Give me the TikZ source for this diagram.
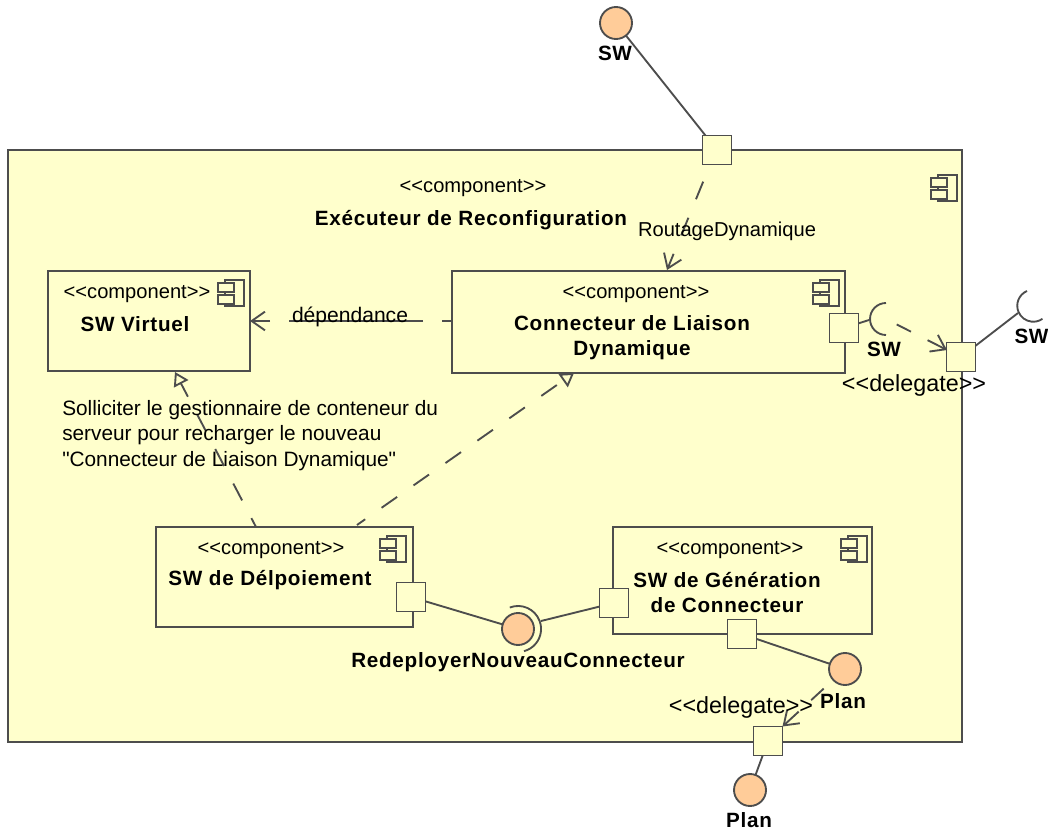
\documentclass[tikz,border=0pt]{standalone}
\usepackage{fontspec}
\newfontfamily\plainfont{Liberation Sans}
\newfontfamily\lblfont[LetterSpace=3.5]{Liberation Sans Bold}
\usetikzlibrary{arrows.meta}
\definecolor{cfill}{RGB}{255,255,204}
\definecolor{cball}{RGB}{255,204,153}
\definecolor{cline}{RGB}{77,77,77}
\tikzset{
  x=0.75pt,y=-0.75pt,
  lin/.style={draw=cline,line width=1.4pt},
  box/.style={lin,fill=cfill,rectangle,inner sep=0pt,outer sep=0pt},
  port/.style={box,minimum size=21.75pt},
  ball/.style={lin,fill=cball,circle,inner sep=0pt,outer sep=0pt,minimum size=24pt},
  stereo/.style={font=\fontsize{15.1}{18}\selectfont\plainfont,inner sep=0pt,text=black},
  deleg/.style={font=\fontsize{17.5}{20}\selectfont\plainfont,inner sep=0pt,text=black},
  lbl/.style={font=\fontsize{15.5}{18.75}\selectfont\lblfont,inner sep=0pt,align=center,text=black},
  note/.style={font=\fontsize{15.6}{19}\selectfont\plainfont,inner sep=0pt,align=left,text=black},
  dep/.style={lin,-{Straight Barb[length=10pt,width=14pt,line width=1.4pt]}},
  real/.style={lin,-{Triangle[open,length=10pt,width=12pt,fill=cfill,line width=1.4pt]}},
  pics/compicon/.style={code={
    \draw[lin,fill=cfill] (7,0) rectangle (26,26);
    \draw[lin,fill=cfill] (0,3) rectangle (16,12);
    \draw[lin,fill=cfill] (0,15) rectangle (16,24);
  }}
}
\begin{document}
\begin{tikzpicture}
\useasboundingbox (0,0) rectangle (1048,831);
\node[box,anchor=north west,minimum width=715.5pt,minimum height=444pt] (outer) at (8,150) {};
% points on the connectors
\coordinate (depfrom) at (452,321);
\coordinate (depto) at (250,321);
\coordinate (virtto) at (175,372);
\coordinate (virtfrom) at (256,527);
\coordinate (connto) at (574,373);
\coordinate (connfrom) at (357,525);
\coordinate (routefrom) at (710,165);
\coordinate (routeto) at (667,270);
\coordinate (reqL) at (869,320);
\coordinate (reqR) at (1018,313);
\coordinate (provR) at (541,621);
\coordinate (delefrom) at (886,319);
\coordinate (delegto) at (947,350);
% this arrow's tip passes under the box it points at
\draw[real,dash pattern=on 14.25pt off 15pt,dash phase=6.75pt] (connfrom) -- (connto);
% boxes
\node[box,anchor=north west,minimum width=151.5pt,minimum height=75pt] (virt) at (48,271) {};
\node[box,anchor=north west,minimum width=294.75pt,minimum height=76.5pt] (conn) at (452,271) {};
\node[box,anchor=north west,minimum width=192.75pt,minimum height=75pt] (depl) at (156,527) {};
\node[box,anchor=north west,minimum width=194.25pt,minimum height=80.25pt] (gen) at (613,527) {};
% icons
\pic at (931,175) {compicon};
\pic at (218,280) {compicon};
\pic at (813,280) {compicon};
\pic at (380,536) {compicon};
\pic at (841,536) {compicon};
% dependencies
\draw[dep,dash pattern=on 14.25pt off 15pt,dash phase=15.75pt] (routefrom) -- (routeto);
\draw[dep,dash pattern=on 7.5pt off 14.25pt on 100.5pt off 14.25pt on 20pt off 20pt] (depfrom) -- (depto);
\draw[real,dash pattern=on 14.25pt off 15pt,dash phase=6.75pt] (virtfrom) -- (virtto);
% ports
\node[port] (ptop) at (717,150) {};
\node[port] (pconn) at (844,328) {};
\node[port] (pright) at (961,357) {};
\node[port] (pdepl) at (411,597) {};
\node[port] (pgen) at (614,603) {};
\node[port] (pgen2) at (742,634) {};
\node[port] (pbot) at (768,741) {};
% balls
\node[ball] (bsw) at (616,23) {};
\node[ball] (bprov) at (518,629) {};
\node[ball] (bplan) at (845,669) {};
\node[ball] (bplan2) at (750,790) {};
% sockets
\draw[lin] (886,303) arc[start angle=270,end angle=90,radius=16];
\draw[lin] (1027,291) arc[start angle=247,end angle=55,radius=16];
\draw[lin] (509.8,607.5) arc[start angle=-111,end angle=75,radius=23];
% solid connectors
\draw[lin] (bsw) -- (ptop);
\draw[lin] (pconn) -- (reqL);
\draw[lin] (pright) -- (reqR);
\draw[lin] (pdepl) -- (bprov);
\draw[lin] (provR) -- (pgen);
\draw[lin] (pgen2) -- (bplan);
\draw[lin] (pbot) -- (bplan2);
% delegates
\draw[dep,dash pattern=on 0pt off 9pt on 12pt off 14pt on 30pt] (delefrom) -- (delegto);
\draw[dep,dash pattern=on 0pt off 9.75pt on 12.75pt off 12.75pt on 30pt] (bplan) -- (pbot.north east);
% texts
\node[stereo] (t1) at (473,188) {<<component>>};
\node[lbl] (t2) at (471,220) {Exécuteur de Reconfiguration};
\node[stereo] (t3) at (137,294) {<<component>>};
\node[lbl] (t4) at (135,324) {SW Virtuel};
\node[stereo] (t5) at (636,294) {<<component>>};
\node[lbl] (t6) at (632,337.5) {Connecteur de Liaison\\Dynamique};
\node[stereo] (t7) at (271,550) {<<component>>};
\node[lbl] (t8) at (270,580) {SW de Délpoiement};
\node[stereo] (t9) at (730,550) {<<component>>};
\node[lbl] (t10) at (727,592.5) {SW de Génération\\de Connecteur};
\node[lbl] (t11) at (518,662) {RedeployerNouveauConnecteur};
\node[lbl] (t12) at (615,53.5) {SW};
\node[lbl] (t13) at (884,349) {SW};
\node[lbl] (t14) at (1031.5,336) {SW};
\node[lbl] (t15) at (843,701) {Plan};
\node[lbl] (t16) at (749,820) {Plan};
\node[deleg] (t17) at (914,385) {<<delegate>>};
\node[deleg] (t18) at (741,707) {<<delegate>>};
\node[stereo] (t19) at (727,231) {RoutageDynamique};
\node[stereo,font=\fontsize{15.8}{18}\selectfont\plainfont] (t20) at (350,317) {dépendance};
\node[note,anchor=north west] (t21) at (62,400) {Solliciter le gestionnaire de conteneur du\\serveur pour recharger le nouveau\\"Connecteur de Liaison Dynamique"};
\end{tikzpicture}
\end{document}
